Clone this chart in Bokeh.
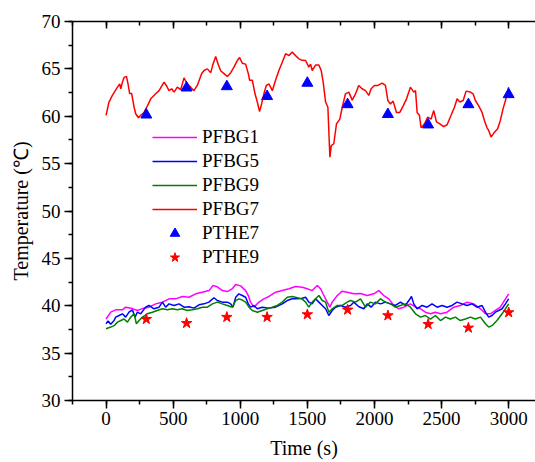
from bokeh.plotting import figure
from bokeh.models import LinearAxis, SingleIntervalTicker, Range1d, Legend, LegendItem, CustomLabelingPolicy
from bokeh.embed import file_html
from bokeh.resources import INLINE

# ---------------- data ----------------
red_t = [0, 22, 47, 85, 102, 110, 122, 134, 152, 164, 176, 191, 209, 221, 241, 258, 283, 308, 333, 370,
         395, 432, 449, 469, 489, 507, 531, 556, 581, 606, 630, 655, 680, 712, 730, 755, 780, 797, 817, 837,
         854, 879, 904, 929, 953, 978, 995, 1015, 1040, 1060, 1070, 1090, 1110, 1127, 1144, 1159, 1176, 1194,
         1214, 1239, 1263, 1288, 1313, 1338, 1363, 1387, 1412, 1437, 1462, 1487, 1511, 1524, 1536, 1561, 1586,
         1603, 1618, 1636, 1653, 1668, 1678, 1697, 1717, 1742, 1760, 1784, 1809, 1834, 1859, 1883, 1908, 1933,
         1958, 1975, 2000, 2025, 2057, 2082, 2100, 2119, 2139, 2164, 2189, 2214, 2239, 2268, 2293, 2306, 2318,
         2335, 2348, 2373, 2397, 2422, 2442, 2462, 2487, 2516, 2541, 2571, 2596, 2616, 2636, 2661, 2683, 2715,
         2735, 2752, 2777, 2802, 2819, 2839, 2851, 2869, 2888, 2918, 2938, 2958, 2976, 2993, 3000]
red_v = [60.1, 61.5, 62.2, 63.07, 63.4, 62.9, 63.6, 64.1, 64.2, 63.4, 62.4, 62.4, 60.95, 60.26, 59.84, 60.1,
         60.4, 61.1, 61.84, 62.37, 62.7, 63.6, 63.25, 62.7, 62.9, 62.55, 63.07, 62.8, 64.05, 63.4, 63.07, 62.7,
         63.25, 64.48, 64.83, 65.0, 64.6, 65.5, 66.3, 65.4, 64.8, 64.5, 64.2, 64.6, 65.18, 65.88, 66.2, 65.6,
         65.5, 64.5, 63.8, 63.8, 62.37, 61.5, 60.5, 61.3, 62.37, 63.25, 63.4, 62.7, 63.8, 64.83, 65.7, 66.6,
         66.4, 66.77, 66.4, 66.06, 65.9, 65.88, 65.18, 65.5, 64.83, 65.4, 65.4, 64.83, 63.6, 61.5, 60.95, 55.68,
         56.9, 57.1, 59.2, 59.7, 60.95, 62.37, 62.55, 61.7, 62.37, 63.25, 62.9, 62.7, 62.2, 62.9, 63.25, 63.25,
         63.5, 63.25, 61.66, 61.3, 61.6, 60.4, 60.4, 61.1, 61.84, 63.07, 62.55, 62.7, 60.4, 60.1, 58.78, 59.2,
         59.9, 59.7, 60.6, 59.4, 59.2, 58.9, 59.1, 60.1, 60.95, 61.84, 61.5, 61.66, 62.65, 62.55, 62.37, 61.66,
         61.1, 60.4, 59.55, 58.78, 58.5, 57.8, 58.2, 58.67, 59.55, 60.78, 61.66, 62.7, 63.07]

mag_t = [0, 35, 72, 122, 146, 196, 233, 271, 320, 370, 420, 469, 519, 568, 618, 668, 717, 767, 797, 829, 866,
         904, 941, 966, 1003, 1040, 1060, 1077, 1102, 1139, 1176, 1214, 1263, 1313, 1363, 1412, 1462, 1499,
         1536, 1574, 1598, 1623, 1648, 1668, 1685, 1723, 1760, 1797, 1846, 1896, 1946, 1995, 2032, 2070, 2107,
         2144, 2181, 2219, 2268, 2306, 2343, 2380, 2417, 2454, 2492, 2541, 2591, 2640, 2690, 2740, 2790, 2827,
         2864, 2901, 2938, 2968, 3000]
mag_v = [38.6, 39.32, 39.57, 39.57, 39.85, 39.7, 39.5, 39.7, 39.85, 40.2, 40.38, 40.73, 40.73, 40.98, 40.9,
         41.26, 41.43, 41.6, 42.14, 42.0, 41.6, 41.5, 41.8, 42.24, 42.1, 41.6, 41.08, 40.38, 39.85, 40.38, 40.73,
         40.98, 41.43, 41.6, 41.8, 42.03, 41.96, 41.8, 41.6, 42.14, 41.8, 41.08, 40.38, 39.85, 40.38, 41.08,
         41.54, 41.43, 41.26, 41.3, 41.08, 41.26, 41.6, 41.08, 40.73, 40.03, 39.68, 39.85, 40.2, 39.85, 39.68,
         39.32, 39.15, 39.32, 39.15, 39.32, 39.85, 40.03, 40.38, 40.2, 39.68, 39.15, 39.15, 39.5, 39.85, 40.55,
         41.26]

blue_t = [0, 15, 35, 60, 72, 97, 122, 146, 171, 196, 216, 233, 258, 295, 320, 357, 395, 420, 444, 469, 507,
          544, 581, 618, 655, 693, 730, 767, 804, 829, 866, 904, 929, 946, 966, 990, 1015, 1040, 1060, 1077,
          1102, 1127, 1164, 1214, 1263, 1313, 1350, 1387, 1425, 1462, 1487, 1511, 1536, 1561, 1586, 1611, 1636,
          1660, 1685, 1710, 1747, 1784, 1822, 1846, 1884, 1921, 1946, 1975, 2007, 2045, 2082, 2119, 2156, 2194,
          2231, 2256, 2276, 2293, 2318, 2355, 2392, 2429, 2467, 2504, 2541, 2578, 2615, 2653, 2690, 2727, 2764,
          2802, 2827, 2851, 2876, 2901, 2926, 2951, 2976, 3000]
blue_v = [38.1, 38.4, 38.05, 38.44, 38.8, 38.97, 39.15, 38.8, 39.32, 39.57, 38.8, 39.32, 39.15, 39.85, 40.03,
          39.68, 39.85, 40.38, 39.85, 40.2, 40.03, 40.2, 39.85, 39.9, 39.75, 40.1, 40.2, 40.38, 40.84, 40.55,
          40.38, 40.38, 40.2, 39.85, 40.9, 41.26, 41.08, 40.9, 40.2, 39.85, 40.03, 39.68, 39.85, 39.75, 39.85,
          40.2, 40.55, 40.73, 40.73, 40.8, 40.9, 40.38, 40.2, 40.73, 40.38, 40.03, 39.68, 38.97, 39.5, 39.85,
          40.03, 39.85, 40.03, 40.38, 39.9, 39.68, 40.2, 39.85, 40.38, 40.2, 40.38, 40.2, 40.03, 40.38, 40.03,
          40.55, 40.98, 40.2, 39.68, 40.03, 39.85, 40.2, 39.85, 40.03, 39.85, 40.03, 40.38, 40.2, 40.03, 40.2,
          39.85, 40.03, 39.32, 38.8, 38.97, 39.32, 39.5, 39.68, 40.2, 40.73]

green_t = [0, 35, 60, 85, 110, 134, 159, 184, 209, 226, 246, 271, 308, 345, 382, 420, 457, 494, 531, 568, 606,
           643, 680, 717, 755, 792, 829, 866, 904, 941, 966, 990, 1015, 1040, 1065, 1090, 1127, 1164, 1201,
           1238, 1276, 1313, 1350, 1387, 1425, 1462, 1487, 1511, 1536, 1561, 1586, 1611, 1636, 1660, 1685, 1723,
           1760, 1797, 1822, 1859, 1896, 1933, 1970, 2007, 2045, 2082, 2119, 2156, 2194, 2231, 2268, 2306, 2343,
           2380, 2417, 2454, 2492, 2529, 2566, 2603, 2640, 2677, 2715, 2752, 2790, 2827, 2851, 2876, 2913, 2951,
           2976, 3000]
green_v = [37.57, 37.75, 37.9, 38.27, 38.44, 38.6, 38.27, 38.8, 39.15, 38.1, 38.44, 38.8, 39.15, 39.32, 39.5,
           39.68, 39.57, 39.68, 39.57, 39.68, 39.5, 39.57, 39.68, 39.85, 39.85, 40.2, 40.38, 40.2, 40.03, 39.85,
           40.55, 40.73, 40.6, 40.38, 39.85, 39.5, 39.32, 39.5, 39.68, 39.85, 40.03, 40.38, 40.9, 40.98, 40.84,
           40.7, 40.38, 39.85, 40.38, 40.73, 41.08, 40.55, 40.38, 39.32, 39.68, 40.03, 40.03, 40.38, 40.55, 40.38,
           40.73, 39.85, 40.38, 40.2, 40.73, 40.38, 40.2, 39.85, 40.03, 40.2, 39.85, 39.15, 38.8, 38.97, 38.6,
           38.97, 38.44, 38.8, 38.6, 38.8, 38.44, 38.6, 38.8, 38.6, 38.8, 38.1, 37.75, 37.9, 38.44, 39.15, 39.68,
           40.2]

pthe_t = [300, 600, 900, 1200, 1500, 1800, 2100, 2400, 2700, 3000]
pthe7_v = [60.15, 63.0, 63.14, 62.1, 63.5, 61.24, 60.2, 59.1, 61.24, 62.3]
pthe9_v = [38.58, 38.16, 38.8, 38.8, 39.08, 39.57, 38.97, 38.05, 37.67, 39.29]

FONT = "'Liberation Serif', 'Times New Roman', serif"

p = figure(width=535, height=462, output_backend="svg", toolbar_location=None,
           x_range=Range1d(-250, 3200), y_range=Range1d(30, 70),
           x_axis_location=None, y_axis_location=None,
           min_border_left=72, min_border_right=0, min_border_top=21, min_border_bottom=62)
p.outline_line_color = None
p.xgrid.visible = False
p.ygrid.visible = False
p.background_fill_color = "white"
p.border_fill_color = "white"

def mk_axis(kind, tick_in=0, tick_out=8, minor_in=0, minor_out=4):
    if kind == "x":
        t = SingleIntervalTicker(interval=500, num_minor_ticks=2)
    else:
        t = SingleIntervalTicker(interval=5, num_minor_ticks=2)
    ax = LinearAxis(ticker=t)
    ax.axis_line_width = 1.5
    ax.axis_line_color = "black"
    ax.major_tick_line_width = 1.5
    ax.minor_tick_line_width = 1.5
    ax.major_tick_in = tick_in
    ax.major_tick_out = tick_out
    ax.minor_tick_in = minor_in
    ax.minor_tick_out = minor_out
    ax.major_label_text_font = FONT
    ax.major_label_text_font_size = "19px"
    ax.major_label_text_color = "black"
    ax.axis_label_text_font = FONT
    ax.axis_label_text_font_size = "20px"
    ax.axis_label_text_font_style = "normal"
    ax.axis_label_text_color = "black"
    return ax

bottom = mk_axis("x")
bottom.axis_label = "Time (s)"
bottom.major_label_standoff = 3
bottom.axis_label_standoff = 9
p.add_layout(bottom, "below")

left = mk_axis("y")
left.axis_label = "Temperature (\u2103)"
left.major_label_standoff = 4
left.axis_label_standoff = 7
p.add_layout(left, "left")

top = mk_axis("x", tick_in=7, tick_out=0, minor_in=4, minor_out=0)
top.major_label_standoff = 0
top.major_label_policy = CustomLabelingPolicy(code="""
for (const i of indices)
    indices.unset(i)
return indices
""")
p.add_layout(top, "above")

r1 = p.line(mag_t, mag_v, line_color="#FF00FF", line_width=1.5)
r5 = p.line(blue_t, blue_v, line_color="#0000FF", line_width=1.5)
r9 = p.line(green_t, green_v, line_color="#008000", line_width=1.5)
r7 = p.line(red_t, red_v, line_color="#FF0000", line_width=1.5)
rt7 = p.scatter(pthe_t, pthe7_v, marker="triangle", size=11, fill_color="#0000FF", line_color="#0000FF")
rt9 = p.scatter(pthe_t, pthe9_v, marker="star", size=11, fill_color="#FF0000", line_color="#FF0000")

legend = Legend(items=[
    LegendItem(label="PFBG1", renderers=[r1]),
    LegendItem(label="PFBG5", renderers=[r5]),
    LegendItem(label="PFBG9", renderers=[r9]),
    LegendItem(label="PFBG7", renderers=[r7]),
    LegendItem(label="PTHE7", renderers=[rt7]),
    LegendItem(label="PTHE9", renderers=[rt9]),
], location=(80, 131))
legend.background_fill_alpha = 0
legend.border_line_color = None
legend.padding = 0
legend.margin = 0
legend.spacing = 0
legend.glyph_width = 45
legend.glyph_height = 24
legend.label_height = 24
legend.label_standoff = 5
legend.label_text_font = FONT
legend.label_text_font_size = "19px"
legend.label_text_color = "black"
p.add_layout(legend, "center")

open("out.html", "w").write(file_html(p, INLINE))
